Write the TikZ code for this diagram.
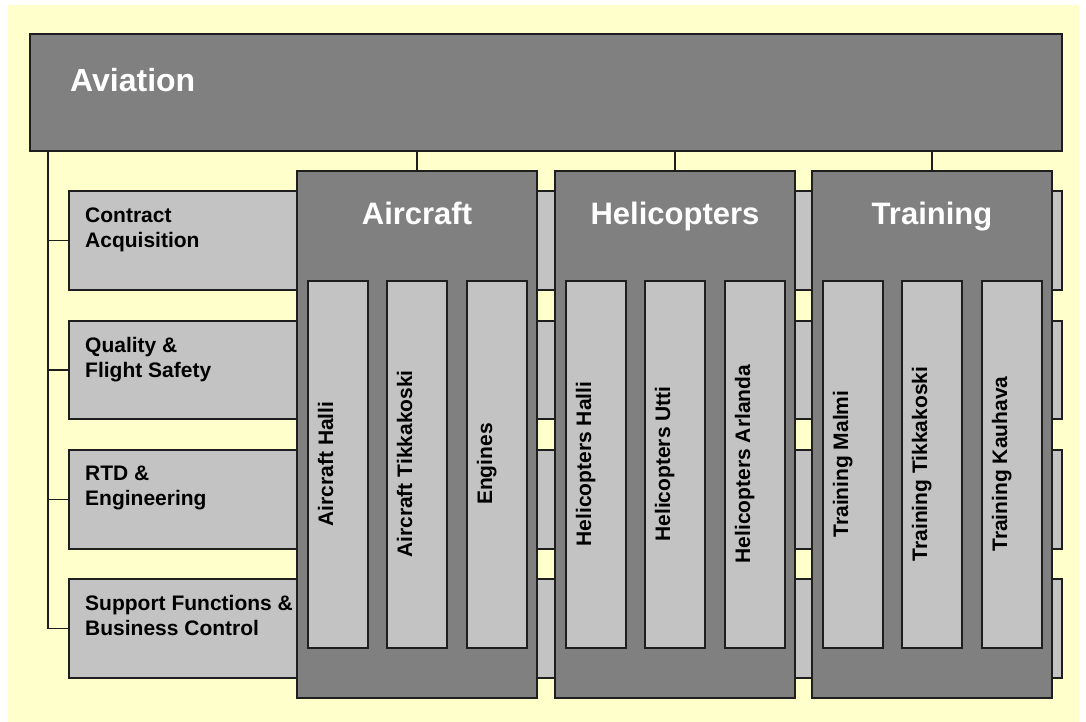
\documentclass[tikz,border=0pt]{standalone}
\usepackage{fontspec}
\setmainfont{Liberation Sans}
\definecolor{cbg}{HTML}{FFFFCC}
\definecolor{cdark}{HTML}{808080}
\definecolor{clight}{HTML}{C3C3C3}
\definecolor{cline}{HTML}{1E1E1E}
\begin{document}
\begin{tikzpicture}[x=1pt,y=-1pt,
  box/.style={draw=cline, line width=1.3pt, inner sep=0pt, outer sep=0pt, anchor=north west},
  darkbox/.style={box, fill=cdark},
  lightbox/.style={box, fill=clight},
  conn/.style={draw=cline, line width=1.3pt},
  bigtitle/.style={text=white, font=\fontsize{31}{36}\selectfont\bfseries, inner sep=0pt},
  rowtext/.style={text=black, font=\fontsize{21}{25}\selectfont\bfseries, align=left, inner sep=0pt, anchor=north west},
  vtext/.style={text=black, font=\fontsize{21}{25}\selectfont\bfseries, inner sep=0pt, rotate=90, anchor=base}]
\useasboundingbox (0,0) rectangle (1086,722);
\fill[white] (0,0) rectangle (1086,722);
\fill[cbg] (8,5) rectangle (1079,722);

% top box
\node[darkbox, minimum width=1032pt, minimum height=117pt] (av) at (30,34) {};
\node[bigtitle, anchor=base west, font=\fontsize{32}{36}\selectfont\bfseries] (avt) at (70,92) {Aviation};

% rows
\node[lightbox, minimum width=993pt, minimum height=99pt] (r1) at (69,191) {};
\node[lightbox, minimum width=993pt, minimum height=98pt] (r2) at (69,321) {};
\node[lightbox, minimum width=993pt, minimum height=99pt] (r3) at (69,450) {};
\node[lightbox, minimum width=993pt, minimum height=99pt] (r4) at (69,579) {};
\node[rowtext] (r1t) at (85,208) {Contract\\Acquisition};
\node[rowtext] (r2t) at (85,337) {Quality \&\\Flight Safety};
\node[rowtext] (r3t) at (85,466) {RTD \&\\Engineering};
\node[rowtext] (r4t) at (85,595) {Support Functions \&\\Business Control};

% trunk connectors
\coordinate (t0) at (48,151);
\draw[conn] (t0) |- (r4.west);
\draw[conn] (t0 |- r1.west) -- (r1.west);
\draw[conn] (t0 |- r2.west) -- (r2.west);
\draw[conn] (t0 |- r3.west) -- (r3.west);

% columns
\node[darkbox, minimum width=240pt, minimum height=527pt] (c1) at (297,171) {};
\node[darkbox, minimum width=240pt, minimum height=527pt] (c2) at (555,171) {};
\node[darkbox, minimum width=240pt, minimum height=527pt] (c3) at (812,171) {};
\draw[conn] (av.south -| c1.north) -- (c1.north);
\draw[conn] (av.south -| c2.north) -- (c2.north);
\draw[conn] (av.south -| c3.north) -- (c3.north);
\node[bigtitle, anchor=base] (c1t) at (417,224) {Aircraft};
\node[bigtitle, anchor=base] (c2t) at (675,224) {Helicopters};
\node[bigtitle, anchor=base] (c3t) at (932,224) {Training};

% inner boxes
\foreach \cx/\cn/\ta/\tb/\tc in {297/1/Aircraft Halli/Aircraft Tikkakoski/Engines,
                                 555/2/Helicopters Halli/Helicopters Utti/Helicopters Arlanda,
                                 812/3/Training Malmi/Training Tikkakoski/Training Kauhava}{
  \node[lightbox, minimum width=60pt, minimum height=367pt] (i\cn a) at (\cx+11,281) {};
  \node[lightbox, minimum width=60pt, minimum height=367pt] (i\cn b) at (\cx+90,281) {};
  \node[lightbox, minimum width=60pt, minimum height=367pt] (i\cn c) at (\cx+170,281) {};
  \node[vtext] (i\cn at) at (\cx+11+25,464) {\ta};
  \node[vtext] (i\cn bt) at (\cx+90+25,464) {\tb};
  \node[vtext] (i\cn ct) at (\cx+170+25,464) {\tc};
}
\end{tikzpicture}
\end{document}
